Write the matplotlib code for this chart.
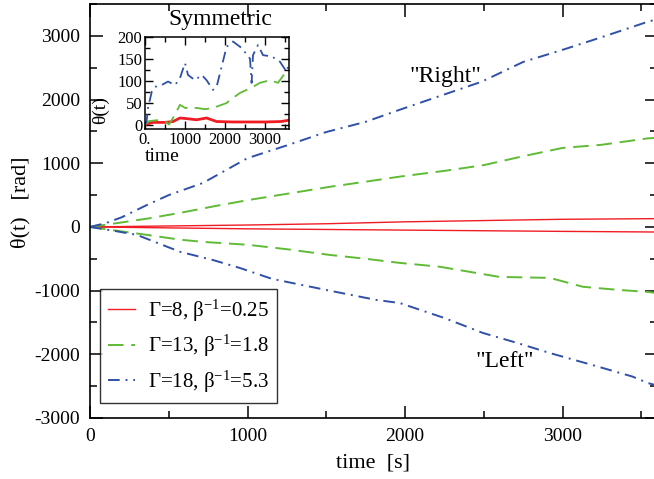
import matplotlib
matplotlib.use("Agg")
import matplotlib.pyplot as plt
from matplotlib.ticker import MultipleLocator, FixedLocator, FixedFormatter

plt.rcParams['font.family'] = ['Liberation Serif', 'DejaVu Serif']
plt.rcParams['mathtext.fontset'] = 'custom'
plt.rcParams['mathtext.rm'] = 'Liberation Serif'
plt.rcParams['mathtext.it'] = 'Liberation Serif:italic'
plt.rcParams['axes.unicode_minus'] = False

# main panel: angle vs time, both rotation directions
red_t = [0, 500, 1000, 1500, 2000, 2500, 3000, 3600]
red_up = [0, 15, 30, 50, 80, 100, 120, 130]
red_lo = [0, -15, -30, -40, -50, -60, -70, -80]

green_up_t = [0, 200, 362, 571, 800, 1000, 1250, 1523, 1750, 1967, 2250, 2500, 2750, 3000, 3250, 3540, 3600]
green_up = [0, 70, 130, 220, 330, 420, 520, 630, 710, 790, 880, 970, 1110, 1240, 1290, 1390, 1400]
green_lo_t = [0, 200, 362, 571, 717, 1000, 1250, 1523, 1750, 1967, 2220, 2600, 2920, 3130, 3360, 3540, 3600]
green_lo = [0, -70, -125, -200, -235, -280, -350, -440, -500, -565, -625, -785, -800, -940, -990, -1020, -1040]

blue_up_t = [0, 100, 200, 362, 500, 717, 1000, 1250, 1500, 1750, 1967, 2250, 2487, 2750, 3000, 3250, 3540, 3600]
blue_up = [0, 60, 150, 345, 500, 690, 1080, 1280, 1490, 1650, 1840, 2080, 2280, 2590, 2780, 2980, 3220, 3260]
blue_lo_t = [0, 150, 298, 571, 781, 952, 1155, 1500, 1815, 1967, 2250, 2495, 2710, 2920, 3235, 3445, 3540, 3600]
blue_lo = [0, -60, -125, -390, -520, -645, -815, -990, -1145, -1195, -1430, -1665, -1820, -1980, -2200, -2350, -2450, -2490]

# inset: symmetric case
ins_red_t = [0, 200, 500, 700, 875, 1000, 1290, 1540, 1790, 2200, 2600, 3000, 3400, 3600]
ins_red = [0, 5, 5, 7, 15, 14, 11, 15, 7, 6, 6, 6, 7, 10]
ins_green_t = [0, 100, 300, 500, 600, 700, 875, 1000, 1290, 1500, 1700, 2040, 2125, 2375, 2540, 2700, 2875, 3125, 3325, 3500, 3600]
ins_green = [0, 8, 10, 8, 0, 15, 45, 38, 38, 35, 38, 49, 56, 72, 79, 86, 95, 101, 95, 117, 122]
ins_blue_t = [0, 40, 75, 170, 250, 415, 575, 750, 875, 1000, 1075, 1250, 1420, 1540, 1700, 1790,
              2040, 2200, 2420, 2625, 2665, 2700, 2825, 2950, 3170, 3375, 3540, 3600]
ins_blue = [0, 7, 38, 75, 86, 90, 98, 90, 106, 140, 113, 101, 113, 101, 79, 86,
            177, 189, 174, 150, 95, 158, 181, 158, 155, 143, 120, 140]

labels = ['Γ=8, β$^{\\mathregular{-1}}$=0.25',
          'Γ=13, β$^{\\mathregular{-1}}$=1.8',
          'Γ=18, β$^{\\mathregular{-1}}$=5.3']

RED = '#f01c24'
GREEN = '#5fbb35'
BLUE = '#3050a8'
dash = (0, (8, 4))
dashdot = (0, (6, 3, 1, 3))

fig = plt.figure(figsize=(6.54, 4.79), dpi=100)
ax = fig.add_axes([90/654, 1-418/479, 567/654, 414/479])

ax.plot(red_t, red_up, color=RED, lw=1.0, label=labels[0])
ax.plot(red_t, red_lo, color=RED, lw=1.0)
ax.plot(green_up_t, green_up, color=GREEN, lw=1.4, ls=dash, label=labels[1])
ax.plot(green_lo_t, green_lo, color=GREEN, lw=1.4, ls=dash)
ax.plot(blue_up_t, blue_up, color=BLUE, lw=1.4, ls=dashdot, label=labels[2])
ax.plot(blue_lo_t, blue_lo, color=BLUE, lw=1.4, ls=dashdot)

ax.set_xlim(0, 3600)
ax.set_ylim(-3000, 3500)
ax.xaxis.set_major_locator(FixedLocator([0, 1000, 2000, 3000]))
ax.xaxis.set_minor_locator(MultipleLocator(500))
ax.yaxis.set_major_locator(FixedLocator([-3000, -2000, -1000, 0, 1000, 2000, 3000]))
ax.yaxis.set_minor_locator(MultipleLocator(500))
ax.tick_params(which='both', direction='in', top=True, right=True, labelsize=14, width=1.1)
ax.tick_params(which='major', length=9, pad=7)
ax.tick_params(which='minor', length=5)
for s in ax.spines.values():
    s.set_linewidth(1.2)

ax.set_xlabel('time  [s]', fontsize=16, labelpad=6)
ax.set_ylabel('θ(t)   [rad]', fontsize=16)
ax.yaxis.set_label_coords(-0.105, 0.52)

ax.text(2259, 2355, '"Right"', fontsize=17, ha='center', va='center')
ax.text(2633, -2120, '"Left"', fontsize=17, ha='center', va='center')

leg = ax.legend(loc='lower left', bbox_to_anchor=(100/654, 1-403/479), bbox_transform=fig.transFigure,
                fontsize=15, frameon=True, fancybox=False, handlelength=1.3, handletextpad=0.6,
                labelspacing=0.45, borderaxespad=0, borderpad=0.4)
leg.get_frame().set_edgecolor('black')
leg.get_frame().set_linewidth(1.0)

# inset
ins = fig.add_axes([145/654, 1-129/479, 144/654, 92.3/479])
ins.plot(ins_red_t, ins_red, color=RED, lw=2.0)
ins.plot(ins_green_t, ins_green, color=GREEN, lw=1.3, ls=dash)
ins.plot(ins_blue_t, ins_blue, color=BLUE, lw=1.3, ls=dashdot)
ins.set_xlim(0, 3600)
ins.set_ylim(-10, 200)
ins.xaxis.set_major_locator(FixedLocator([0, 1000, 2000, 3000]))
ins.xaxis.set_major_formatter(FixedFormatter(['0.', '1000', '2000', '3000']))
ins.xaxis.set_minor_locator(MultipleLocator(500))
ins.yaxis.set_major_locator(FixedLocator([0, 50, 100, 150, 200]))
ins.yaxis.set_minor_locator(MultipleLocator(25))
ins.tick_params(which='both', direction='in', top=True, right=True, labelsize=12, width=1.0, pad=2)
ins.tick_params(which='major', length=6)
ins.tick_params(which='minor', length=3.5)
for s in ins.spines.values():
    s.set_linewidth(1.1)
ins.set_ylabel('θ(t)', fontsize=14, labelpad=0)
ins.yaxis.set_label_coords(-0.25, 0.2)
ins.text(0.12, -0.3, 'time', fontsize=14, ha='center', va='center', transform=ins.transAxes)
fig.text(220/654, 1-20/479, 'Symmetric', fontsize=17, ha='center', va='center')

fig.savefig('out.png', dpi=100)
